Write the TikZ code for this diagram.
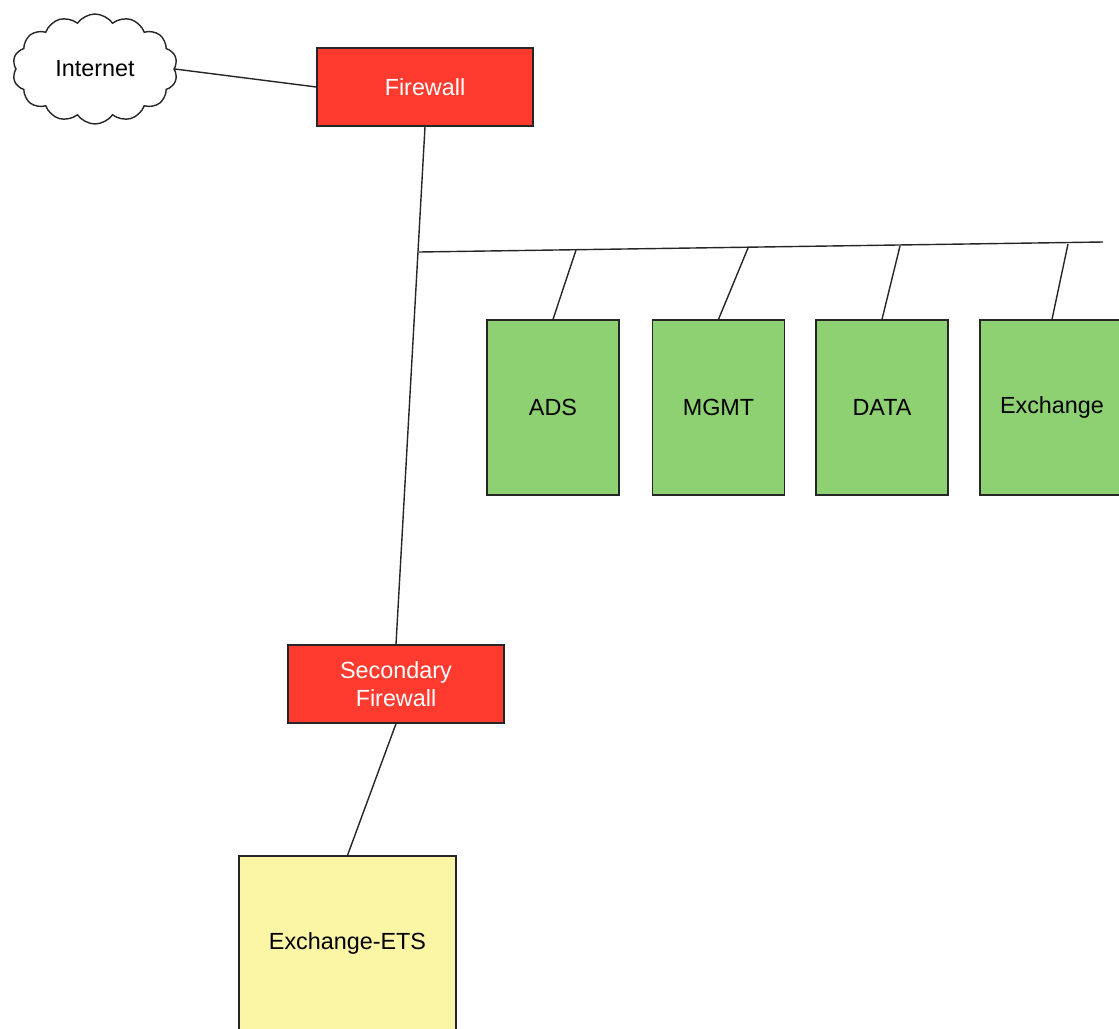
\documentclass[tikz,border=0pt]{standalone}
\usepackage{fontspec}
\setmainfont{Liberation Sans}
\usepackage{xcolor}
\usepackage{tikz}
\usetikzlibrary{positioning,shapes.symbols}

\definecolor{fwred}{HTML}{FF3B2F}
\definecolor{srvgreen}{HTML}{8ED173}
\definecolor{etsyellow}{HTML}{FBF6A6}

\tikzset{
	box/.style={draw=black!85, line width=0.8pt, font=\fontsize{13.3}{16}\selectfont},
	firewall/.style={box, fill=fwred, text=white, align=center, minimum width=4.32cm, minimum height=1.56cm},
	server/.style={box, fill=srvgreen, minimum width=2.64cm, minimum height=3.5cm},
	link/.style={draw=black!85, line width=0.8pt}
}

\begin{document}
\begin{tikzpicture}[x=0.02cm, y=-0.02cm]
	\clip (0,0) rectangle (1119,1028);
	\node[cloud, cloud puffs=14, cloud puff arc=110, cloud ignores aspect, draw=black!85, line width=0.8pt, fill=white,
		minimum width=3.3cm, minimum height=2.2cm, font=\fontsize{13.3}{16}\selectfont] (internet) at (95,69) {Internet};
	\node[firewall] (fw) at (425,87) {Firewall};
	\node[firewall] (fw2) at (396,684) {Secondary\\Firewall};
	\node[server] (ads) at (553,407.5) {ADS};
	\node[server] (mgmt) at (718.5,407.5) {MGMT};
	\node[server] (data) at (882,407.5) {DATA};
	\node[server, minimum width=2.88cm] (exch) at (1052,407.5) {Exchange};
	\node[box, fill=etsyellow, minimum width=4.34cm, minimum height=3.48cm] (ets) at (347.5,943) {Exchange-ETS};
	\coordinate (bus0) at (419,252);
	\coordinate (bus1) at (576,250);
	\coordinate (bus2) at (748,248);
	\coordinate (bus3) at (900,246);
	\coordinate (bus4) at (1068,244);
	\coordinate (busend) at (1103,242);
	\draw[link] (internet.east) -- (fw.west);
	\draw[link] (fw.south) -- (fw2.north);
	\draw[link] (bus0) -- (busend);
	\draw[link] (bus1) -- (ads.north);
	\draw[link] (bus2) -- (mgmt.north);
	\draw[link] (bus3) -- (data.north);
	\draw[link] (bus4) -- (exch.north);
	\draw[link] (fw2.south) -- (ets.north);
\end{tikzpicture}
\end{document}
